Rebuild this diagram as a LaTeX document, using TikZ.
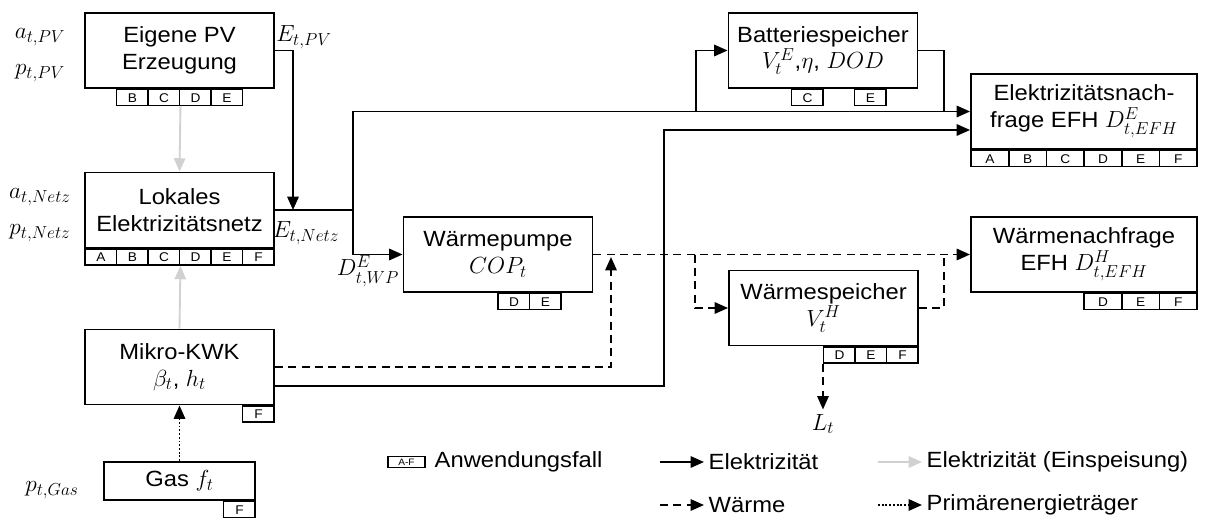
\documentclass[tikz,border=0pt]{standalone}
\usepackage{fix-cm}
\usepackage{amsmath,amssymb}
\usepackage{fontspec}
\setmainfont[FakeStretch=1.08]{Liberation Sans}
\usetikzlibrary{calc,positioning,arrows.meta}
\DeclareMathSizes{16.5}{17.5}{13}{10}

% Anwendungsfaelle unter einem Block: #1 Knoten, #2 Breite, #3 Liste Index/Buchstabe
\newcommand{\falltags}[3]{%
	\foreach \k/\l in {#3}
		\node[fall, minimum width=#2, anchor=north east] (#1-\l) at ($(#1.south east)+({-(6-\k)*#2},0)$) {\l};
}

\begin{document}
\begin{tikzpicture}[x=0.75pt,y=-0.75pt,
		font=\fontsize{16.5}{20}\selectfont,
		block/.style={draw, line width=1.4pt, minimum width=141.75pt, minimum height=56.25pt, align=center, inner sep=1pt},
		fall/.style={draw, line width=1.1pt, minimum height=12pt, inner sep=0pt, font=\fontsize{9.5}{10}\selectfont},
		line/.style={line width=1.4pt},
		elec/.style={line, -{Triangle[length=10pt,width=8.5pt]}},
		feed/.style={elec, black!18},
		heatline/.style={line, dash pattern=on 6pt off 4pt},
		heat/.style={elec, dash pattern=on 6pt off 4pt},
		prim/.style={elec, dash pattern=on 1.4pt off 1.4pt}]
	\useasboundingbox (0,0) rectangle (1205,520);

	% Bloecke
	\node[block] (pv) at (179.5,50.5) {Eigene PV\\Erzeugung};
	\node[block] (netz) at (179.5,210) {Lokales\\Elektrizitätsnetz};
	\node[block] (kwk) at (179.5,367) {Mikro-KWK\\$\beta_t$, $h_t$};
	\node[block, minimum width=113.25pt, minimum height=28.5pt] (gas) at (179.5,481) {Gas $f_t$};
	\node[block] (wp) at (498,254.5) {Wärmepumpe\\$COP_t$};
	\node[block] (bat) at (823,50.5) {Batteriespeicher\\$V_t^E$,$\eta$, $DOD$};
	\node[block, minimum width=169.5pt] (efhE) at (1084,111.5) {Elektrizitätsnach-\\frage EFH $D_{t,EFH}^E$};
	\node[block, minimum width=169.5pt] (efhH) at (1084,254.5) {Wärmenachfrage\\EFH $D_{t,EFH}^H$};
	\node[block] (ws) at (823.5,308) {Wärmespeicher\\$V_t^H$};

	\falltags{pv}{23.625pt}{2/B,3/C,4/D,5/E}
	\falltags{netz}{23.625pt}{1/A,2/B,3/C,4/D,5/E,6/F}
	\falltags{kwk}{23.625pt}{6/F}
	\falltags{gas}{23.625pt}{6/F}
	\falltags{wp}{23.625pt}{4/D,5/E}
	\falltags{bat}{23.625pt}{3/C,5/E}
	\falltags{efhE}{28.25pt}{1/A,2/B,3/C,4/D,5/E,6/F}
	\falltags{efhH}{28.25pt}{4/D,5/E,6/F}
	\falltags{ws}{23.625pt}{4/D,5/E,6/F}

	% Parameter
	\node (aPV) at (40,37) {$a_{t,PV}$};
	\node (pPV) at (40,73) {$p_{t,PV}$};
	\node (aNetz) at (40,197) {$a_{t,Netz}$};
	\node (pNetz) at (40,233) {$p_{t,Netz}$};
	\node (pGas) at (52,490) {$p_{t,Gas}$};
	\node (EPV) at (304,37) {$E_{t,PV}$};
	\node (ENetz) at (306,233) {$E_{t,Netz}$};
	\node (DWP) at (368,271) {$D_{t,WP}^E$};

	% Elektrizitaet
	\coordinate (pvdown) at (293,210);
	\coordinate (jn) at (353,210);
	\coordinate (jbat) at (696,111.5);
	\coordinate (jbatout) at (944,111.5);
	\coordinate (riser) at (664,0);
	\coordinate (kwkout) at ($(kwk.east)+(0,19)$);
	\coordinate (efhEin) at ($(efhE.west)+(0,18.5)$);
	\draw[elec] (pv.east) -| (pvdown);
	\draw[line] (netz.east) -- (jn);
	\draw[elec] (jn) |- (efhE.west);
	\draw[elec] (jn) |- (wp.west);
	\draw[elec] (jbat) |- (bat.west);
	\draw[line] (bat.east) -| (jbatout);
	\draw[elec] (kwkout) -| (riser |- efhEin) -- (efhEin);

	% Einspeisung
	\draw[feed] (pv-C.south east) -- (netz.north);
	\draw[feed] (kwk.north) -- (netz-C.south east);

	% Waerme
	\coordinate (wpjoin) at (611,257);
	\coordinate (jws) at (695,254.5);
	\coordinate (jwsout) at (944,254.5);
	\draw[heat] (kwk.east) -| (wpjoin);
	\draw[heat] (wp.east) -- (efhH.west);
	\draw[heat] (jws) |- (ws.west);
	\draw[heatline] (ws.east) -| (jwsout);
	\node (Lt) at ($(ws-D.south west)+(0,60)$) {$L_t$};
	\draw[heat] (ws-D.south west) -- (Lt);

	% Gas
	\draw[prim] (gas.north) -- (kwk.south);

	% Legende
	\node[fall, minimum width=27.75pt, minimum height=8.5pt, font=\fontsize{7}{7}\selectfont] (lgFall) at (406.5,462) {A-F};
	\node[anchor=west] (lgFallT) at (430,462) {Anwendungsfall};
	\coordinate (lgElecA) at (660,462);
	\node[anchor=west] (lgElec) at (704,462) {Elektrizität};
	\draw[elec] (lgElecA) -- (lgElec.west);
	\coordinate (lgFeedA) at (878,462);
	\node[anchor=west] (lgFeed) at (922,462) {Elektrizität (Einspeisung)};
	\draw[feed] (lgFeedA) -- (lgFeed.west);
	\coordinate (lgHeatA) at (660,505);
	\node[anchor=west] (lgHeat) at (704,505) {Wärme};
	\draw[heat] (lgHeatA) -- (lgHeat.west);
	\coordinate (lgPrimA) at (878,505);
	\node[anchor=west] (lgPrim) at (922,505) {Primärenergieträger};
	\draw[prim] (lgPrimA) -- (lgPrim.west);

\end{tikzpicture}
\end{document}
